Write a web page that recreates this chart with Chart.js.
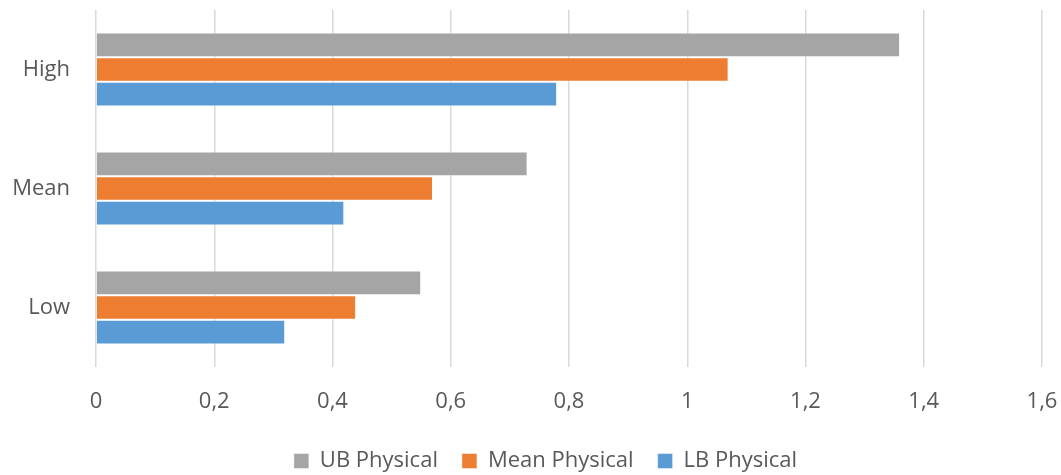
<!DOCTYPE html>
<html>
<head>
<meta charset="utf-8">
<script src="https://cdn.jsdelivr.net/npm/chart.js@4"></script>
<style>
  html, body { margin: 0; padding: 0; background: #fff; overflow: hidden; }
  #wrap { width: 1061px; height: 475px; }
</style>
</head>
<body>
<div id="wrap"><canvas id="chart"></canvas></div>
<script>
  // categories, top to bottom
  const categories = ['High', 'Mean', 'Low'];

  // series values
  const ubPhysical = [1.36, 0.73, 0.55];
  const meanPhysical = [1.07, 0.57, 0.44];
  const lbPhysical = [0.78, 0.42, 0.32];

  const xTickLabels = ['0', '0,2', '0,4', '0,6', '0,8', '1', '1,2', '1,4', '1,6'];

  const FONT = 'Open Sans';
  const TEXT = '#595959';

  const ctx = document.getElementById('chart').getContext('2d');

  function series(label, data, color) {
    return {
      label,
      data,
      backgroundColor: color,
      borderColor: 'rgba(255,255,255,0.45)',
      borderWidth: 1,
      categoryPercentage: 0.62,
      barPercentage: 1.0,
    };
  }

  // nudge the centred legend a bit to the right, like the reference
  const legendShift = {
    id: 'legendShift',
    afterLayout(chart) {
      if (!chart.legend) return;
      chart.legend.left += 15;
      chart.legend.right += 15;
    }
  };

  new Chart(ctx, {
    type: 'bar',
    data: {
      labels: categories,
      datasets: [
        series('UB Physical', ubPhysical, '#A5A5A5'),
        series('Mean Physical', meanPhysical, '#ED7D31'),
        series('LB Physical', lbPhysical, '#5B9BD5'),
      ]
    },
    plugins: [legendShift],
    options: {
      indexAxis: 'y',
      responsive: true,
      maintainAspectRatio: false,
      animation: false,
      devicePixelRatio: 1,
      layout: { padding: { top: 10, right: 0, bottom: -7, left: 0 } },
      plugins: {
        tooltip: { enabled: false },
        legend: {
          position: 'bottom',
          labels: {
            color: TEXT,
            font: { family: FONT, size: 22 },
            boxWidth: 15,
            boxHeight: 15,
            padding: 24,
          }
        }
      },
      scales: {
        x: {
          min: 0,
          max: 1.6,
          ticks: {
            stepSize: 0.2,
            color: TEXT,
            padding: 22,
            font: { family: FONT, size: 22 },
            maxRotation: 0,
            callback: (v, i) => xTickLabels[i],
          },
          grid: { color: '#D9D9D9', lineWidth: 1.5, drawTicks: false },
          border: { display: false },
          afterFit: s => { s.height = 59; s.paddingLeft = 0; s.paddingRight = 19; },
        },
        y: {
          ticks: {
            color: TEXT,
            padding: 26,
            font: { family: FONT, size: 22 },
          },
          grid: { display: false, drawTicks: false },
          border: { display: false },
          afterFit: s => { s.width = 96; s.paddingTop = 0; s.paddingBottom = 0; },
        }
      }
    }
  });
</script>
</body>
</html>
